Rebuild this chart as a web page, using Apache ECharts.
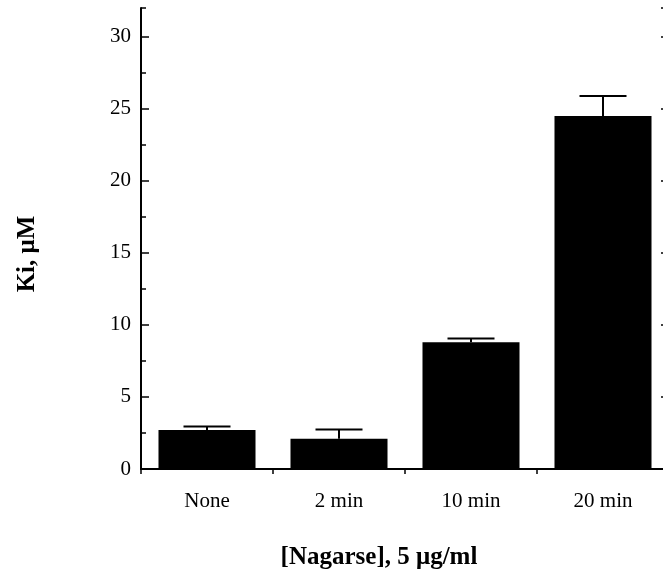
<!DOCTYPE html>
<html>
<head>
<meta charset="utf-8">
<script src="https://cdn.jsdelivr.net/npm/echarts@6/dist/echarts.min.js"></script>
<style>
html,body{margin:0;padding:0;background:#fff;}
#chart{width:663px;height:573px;}
</style>
</head>
<body>
<div id="chart"></div>
<script>
// Data
var categories = ['None', '2 min', '10 min', '20 min'];
var kiMeans = [2.7, 2.1, 8.8, 24.5];
var kiErrorTop = [2.95, 2.75, 9.05, 25.9];
var yTicks = [0, 5, 10, 15, 20, 25, 30];
var xTitle = '[Nagarse], 5 \u03BCg/ml';
var yTitle = 'Ki, \u03BCM';

var FONT = '"Liberation Serif", "DejaVu Serif", serif';
var chart = echarts.init(document.getElementById('chart'), null, {renderer: 'canvas'});

function yAxisCfg(pos, interval, tickLen, showLabel, showLine) {
  return {
    type: 'value', position: pos, min: 0, max: 32, interval: interval,
    axisLine: {show: showLine, lineStyle: {color: '#000', width: 2}},
    axisTick: {show: true, inside: true, length: tickLen, lineStyle: {color: '#000', width: 1.5}},
    axisLabel: {
      show: showLabel, margin: 10, color: '#000', fontFamily: FONT, fontSize: 21,
      showMaxLabel: false,
      formatter: function (v) { return yTicks.indexOf(v) >= 0 ? String(v) : ''; }
    },
    splitLine: {show: false}
  };
}

var option = {
  backgroundColor: '#fff',
  animation: false,
  grid: {left: 141, right: -6, top: 8, bottom: 104, containLabel: false, outerBoundsMode: 'none'},
  xAxis: [{
    type: 'category', data: categories, position: 'bottom',
    axisLine: {show: true, lineStyle: {color: '#000', width: 2}},
    axisTick: {show: true, inside: false, length: 5, alignWithLabel: false, lineStyle: {color: '#000', width: 1.5}},
    axisLabel: {margin: 22, color: '#000', fontFamily: FONT, fontSize: 21}
  }, {
    type: 'category', data: categories, position: 'top',
    axisLine: {show: true, lineStyle: {color: '#000', width: 2}},
    axisTick: {show: false}, axisLabel: {show: false}
  }],
  yAxis: [
    yAxisCfg('left', 5, 8, true, true),
    yAxisCfg('left', 2.5, 5, false, false),
    yAxisCfg('right', 5, 8, false, true),
    yAxisCfg('right', 2.5, 5, false, false)
  ],
  graphic: [{
    type: 'text', x: 379, y: 558,
    style: {text: xTitle, fill: '#000', font: 'bold 25px ' + FONT, align: 'center', verticalAlign: 'middle'}
  }, {
    type: 'text', x: 28, y: 254, rotation: Math.PI / 2,
    style: {text: yTitle, fill: '#000', font: 'bold 25px ' + FONT, align: 'center', verticalAlign: 'middle'}
  }],
  series: [{
    type: 'bar', data: kiMeans, xAxisIndex: 0, yAxisIndex: 0,
    barWidth: '73.5%',
    itemStyle: {color: '#000'}
  }, {
    type: 'custom', xAxisIndex: 0, yAxisIndex: 0,
    data: categories.map(function (c, i) { return [i, kiMeans[i], kiErrorTop[i]]; }),
    renderItem: function (params, api) {
      var x = api.value(0);
      var base = api.coord([x, api.value(1)]);
      var top = api.coord([x, api.value(2)]);
      var half = 23.5;
      return {
        type: 'group',
        children: [
          {type: 'line', shape: {x1: base[0], y1: base[1], x2: top[0], y2: top[1]}, style: {stroke: '#000', lineWidth: 2}},
          {type: 'line', shape: {x1: top[0] - half, y1: top[1], x2: top[0] + half, y2: top[1]}, style: {stroke: '#000', lineWidth: 2}}
        ]
      };
    },
    z: 5
  }]
};
chart.setOption(option);
</script>
</body>
</html>
